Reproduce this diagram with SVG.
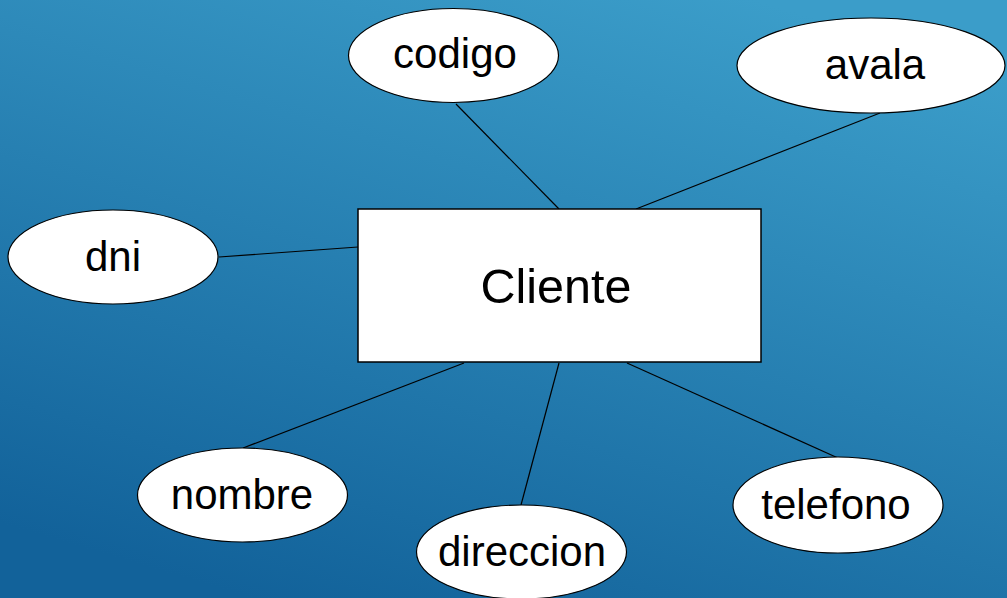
<svg xmlns="http://www.w3.org/2000/svg" width="1007" height="598" viewBox="0 0 1007 598">
  <defs>
    <linearGradient id="bg" x1="0.75" y1="0" x2="0.25" y2="1">
      <stop offset="0" stop-color="#3b9dc9"/>
      <stop offset="1" stop-color="#12629a"/>
    </linearGradient>
    <style>
      .attr { fill: #ffffff; stroke: #000000; stroke-width: 1.2; }
      .ent { fill: #ffffff; stroke: #000000; stroke-width: 1.5; }
      .lbl { font-family: "Liberation Sans", Arial, sans-serif; font-size: 42px; fill: #000000; text-anchor: middle; }
      .elbl { font-family: "Liberation Sans", Arial, sans-serif; font-size: 48.5px; fill: #000000; text-anchor: middle; }
      .conn line { stroke: #000000; stroke-width: 1.2; }
    </style>
  </defs>
  <rect x="0" y="0" width="1007" height="598" fill="url(#bg)"/>
  <g id="connectors" class="conn">
    <line x1="456" y1="104" x2="559" y2="209"/>
    <line x1="880" y1="113" x2="636" y2="209"/>
    <line x1="219" y1="257" x2="358" y2="247"/>
    <line x1="243" y1="448" x2="464" y2="363"/>
    <line x1="521" y1="505" x2="559" y2="363"/>
    <line x1="838" y1="458" x2="627" y2="363"/>
  </g>
  <g id="cliente">
    <rect class="ent" x="358" y="209" width="403" height="153"/>
    <text class="elbl" x="556" y="303">Cliente</text>
  </g>
  <g id="codigo">
    <ellipse class="attr" cx="453.5" cy="55.5" rx="105" ry="47"/>
    <text class="lbl" x="455" y="68">codigo</text>
  </g>
  <g id="avala">
    <ellipse class="attr" cx="871" cy="65.5" rx="134" ry="47.5"/>
    <text class="lbl" x="875" y="79">avala</text>
  </g>
  <g id="dni">
    <ellipse class="attr" cx="113" cy="257" rx="105" ry="47"/>
    <text class="lbl" x="113" y="271">dni</text>
  </g>
  <g id="nombre">
    <ellipse class="attr" cx="242.5" cy="495" rx="105" ry="47"/>
    <text class="lbl" x="242" y="509">nombre</text>
  </g>
  <g id="direccion">
    <ellipse class="attr" cx="521.5" cy="552" rx="105" ry="47"/>
    <text class="lbl" x="522" y="566">direccion</text>
  </g>
  <g id="telefono">
    <ellipse class="attr" cx="838" cy="505" rx="105" ry="48"/>
    <text class="lbl" x="836" y="519">telefono</text>
  </g>
</svg>
